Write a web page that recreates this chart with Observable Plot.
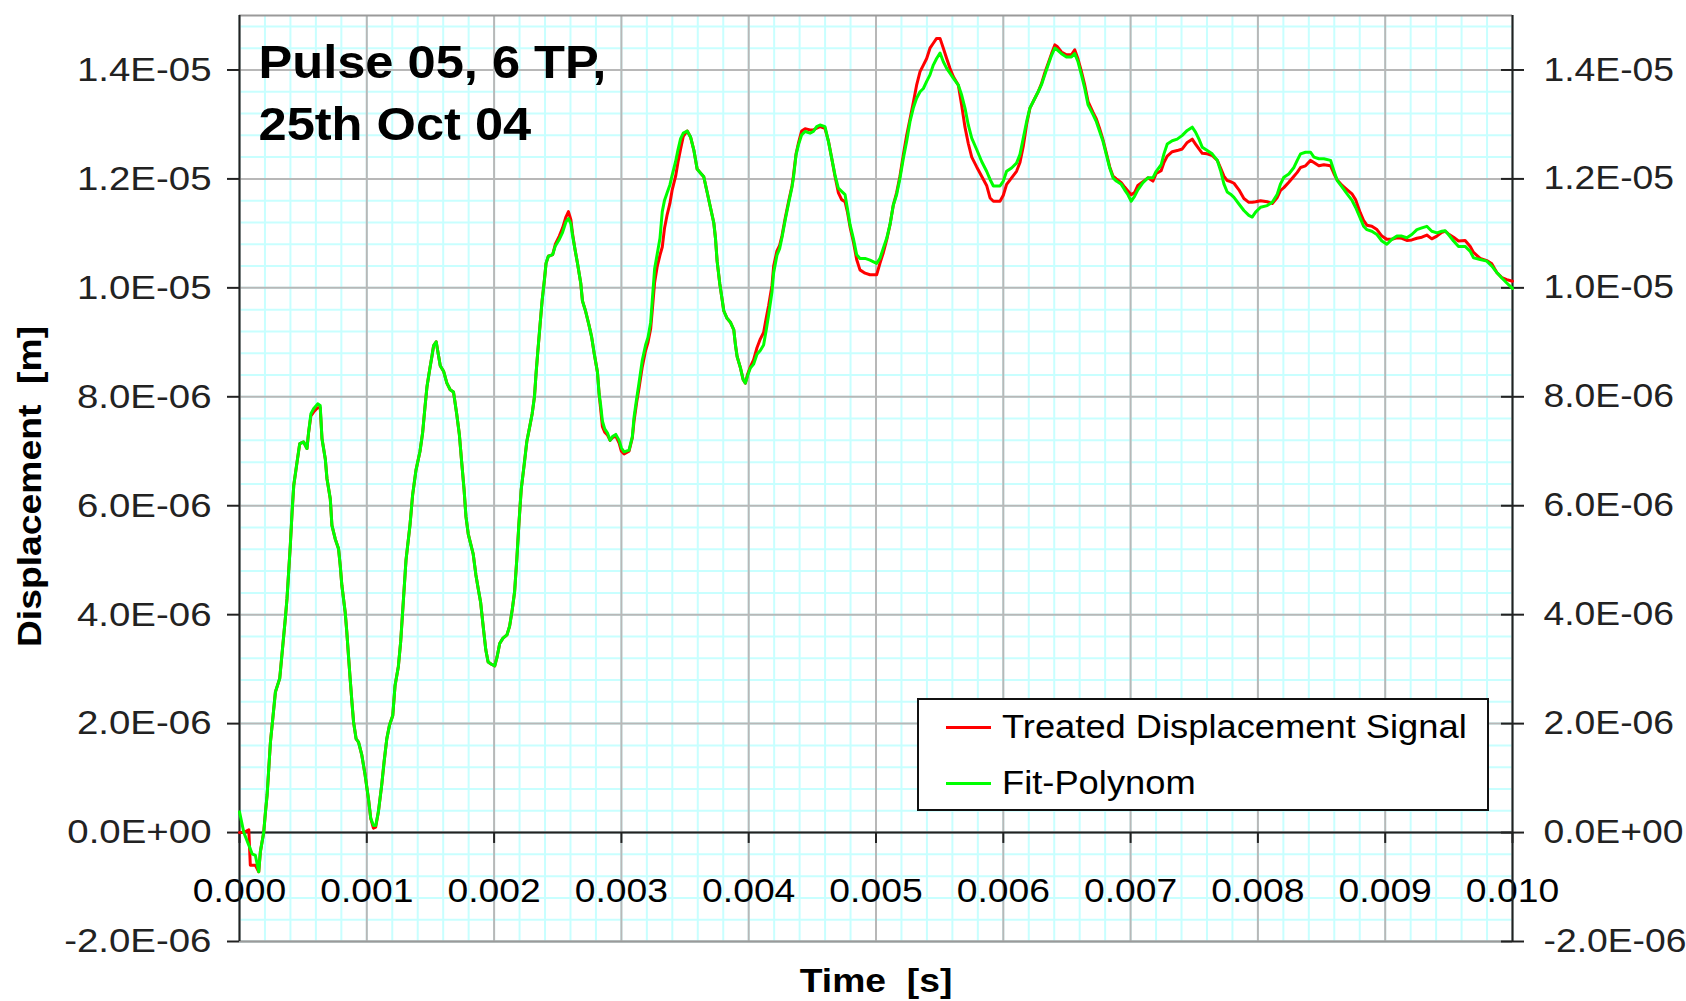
<!DOCTYPE html>
<html>
<head>
<meta charset="utf-8">
<script src="https://cdn.jsdelivr.net/npm/d3@7"></script>
<script src="https://cdn.jsdelivr.net/npm/@observablehq/plot@0.6"></script>
<style>
  html, body { margin: 0; padding: 0; background: #fff; }
  #chart { position: relative; width: 1686px; height: 1001px; overflow: hidden; }
  #chart svg text { white-space: pre; }
  #legend { position: absolute; box-sizing: border-box; border: 2px solid #111; background: #fff;
            font-family: "Liberation Sans", Arial, sans-serif; color: #000; }
  .lg-item { position: absolute; left: 0; height: 40px; width: 100%; }
  .lg-swatch { position: absolute; left: 27px; width: 45px; height: 3px; }
  .lg-text { position: absolute; left: 83px; top: 0; line-height: 40px; font-size: 33px;
             white-space: pre; transform: scaleX(1.10); transform-origin: left center; }
</style>
</head>
<body>
<div id="chart"></div>
<script>
// ---------------- data ----------------
// time in milliseconds
const timeMs = [
0.000,0.034,0.073,0.085,0.099,0.125,0.151,0.164,0.190,0.204,
0.217,0.243,0.264,0.282,0.316,0.334,0.360,0.373,0.399,0.413,
0.426,0.452,0.473,0.504,0.530,0.543,0.561,0.582,0.614,0.634,
0.648,0.674,0.687,0.713,0.726,0.752,0.778,0.791,0.804,0.830,
0.843,0.856,0.869,0.883,0.896,0.916,0.935,0.961,0.987,1.013,
1.031,1.052,1.070,1.091,1.117,1.136,1.157,1.178,1.204,1.222,
1.248,1.266,1.287,1.308,1.339,1.360,1.386,1.418,1.439,1.457,
1.473,1.494,1.512,1.525,1.545,1.564,1.577,1.603,1.629,1.655,
1.681,1.706,1.727,1.745,1.764,1.779,1.797,1.816,1.836,1.857,
1.875,1.894,1.914,1.935,1.953,1.979,2.005,2.023,2.044,2.070,
2.101,2.122,2.143,2.161,2.179,2.195,2.213,2.239,2.257,2.278,
2.299,2.317,2.330,2.343,2.361,2.377,2.395,2.408,2.426,2.460,
2.481,2.512,2.538,2.564,2.584,2.603,2.616,2.636,2.655,2.681,
2.694,2.719,2.745,2.766,2.786,2.812,2.825,2.838,2.851,2.869,
2.890,2.911,2.930,2.956,2.982,3.000,3.021,3.060,3.086,3.099,
3.120,3.138,3.164,3.190,3.209,3.230,3.243,3.261,3.282,3.303,
3.321,3.339,3.360,3.381,3.399,3.426,3.444,3.465,3.486,3.517,
3.543,3.569,3.595,3.621,3.647,3.674,3.700,3.726,3.739,3.752,
3.773,3.791,3.804,3.830,3.856,3.883,3.896,3.909,3.935,3.956,
3.974,3.992,4.013,4.039,4.065,4.091,4.117,4.138,4.157,4.183,
4.196,4.222,4.243,4.261,4.287,4.313,4.340,4.351,4.372,4.390,
4.416,4.443,4.482,4.508,4.534,4.560,4.599,4.626,4.652,4.678,
4.704,4.730,4.757,4.775,4.796,4.822,4.848,4.874,4.914,4.953,
5.005,5.031,5.058,5.084,5.110,5.136,5.162,5.188,5.215,5.241,
5.267,5.293,5.319,5.346,5.372,5.398,5.424,5.450,5.476,5.503,
5.529,5.555,5.581,5.607,5.647,5.673,5.699,5.725,5.752,5.791,
5.830,5.869,5.896,5.922,5.974,6.000,6.026,6.065,6.104,6.131,
6.157,6.183,6.209,6.248,6.274,6.300,6.326,6.352,6.379,6.405,
6.423,6.457,6.496,6.535,6.561,6.587,6.614,6.640,6.666,6.705,
6.731,6.757,6.783,6.809,6.836,6.862,6.888,6.927,6.953,6.979,
7.005,7.031,7.057,7.097,7.136,7.175,7.201,7.240,7.262,7.288,
7.327,7.366,7.406,7.445,7.484,7.510,7.537,7.563,7.602,7.641,
7.681,7.707,7.733,7.759,7.785,7.812,7.851,7.890,7.929,7.955,
7.982,8.021,8.073,8.113,8.152,8.178,8.204,8.243,8.283,8.309,
8.335,8.374,8.414,8.440,8.479,8.518,8.571,8.597,8.623,8.662,
8.702,8.741,8.767,8.804,8.830,8.856,8.895,8.935,8.974,9.013,
9.052,9.092,9.131,9.170,9.209,9.249,9.288,9.327,9.366,9.406,
9.445,9.471,9.497,9.537,9.576,9.628,9.668,9.694,9.746,9.798,
9.838,9.877,9.916,9.955,10.000
];

// Treated Displacement Signal (red), in 1E-06 m
const treatedSignal = [
0.00,0.00,0.05,-0.60,-0.60,-0.60,-0.72,-0.35,0.00,0.38,
0.69,1.66,2.15,2.58,2.83,3.28,3.93,4.29,5.27,5.88,
6.37,6.80,7.14,7.17,7.05,7.35,7.65,7.72,7.80,7.80,
7.23,6.86,6.50,6.13,5.64,5.39,5.21,4.91,4.54,4.05,
3.68,3.25,2.83,2.40,2.03,1.72,1.66,1.42,1.05,0.62,
0.26,0.08,0.10,0.38,0.87,1.30,1.72,1.97,2.15,2.70,
3.05,3.50,4.25,5.00,5.64,6.20,6.65,7.00,7.35,7.81,
8.19,8.50,8.75,8.94,9.01,8.75,8.57,8.47,8.25,8.13,
8.09,7.69,7.31,6.81,6.30,5.80,5.48,5.30,5.11,4.73,
4.48,4.23,3.79,3.35,3.13,3.09,3.06,3.22,3.47,3.57,
3.63,3.79,4.10,4.42,5.04,5.67,6.30,6.81,7.18,7.43,
7.69,8.00,8.44,8.82,9.32,9.76,10.14,10.45,10.58,10.61,
10.80,10.95,11.10,11.30,11.40,11.25,11.00,10.70,10.45,10.08,
9.76,9.57,9.32,9.10,8.80,8.45,8.05,7.75,7.45,7.35,
7.30,7.20,7.25,7.28,7.15,7.00,6.95,7.00,7.25,7.55,
7.90,8.15,8.55,8.85,9.00,9.25,9.60,10.10,10.40,10.60,
10.75,11.10,11.35,11.55,11.80,12.05,12.30,12.55,12.78,12.88,
12.77,12.53,12.18,12.11,12.04,11.75,11.47,11.19,10.91,10.49,
10.07,9.79,9.58,9.44,9.37,9.23,8.95,8.74,8.53,8.32,
8.25,8.42,8.55,8.68,8.90,9.06,9.18,9.45,9.68,10.05,
10.40,10.68,10.78,10.95,11.28,11.58,11.87,12.05,12.46,12.65,
12.88,12.92,12.90,12.90,12.93,12.96,12.93,12.70,12.38,12.05,
11.75,11.62,11.58,11.40,11.12,10.85,10.52,10.33,10.27,10.24,
10.24,10.45,10.65,10.88,11.16,11.52,11.75,12.05,12.45,12.80,
13.10,13.40,13.72,13.97,14.09,14.21,14.40,14.49,14.58,14.58,
14.40,14.21,14.03,13.88,13.72,13.35,12.95,12.65,12.40,12.22,
12.05,11.88,11.65,11.59,11.59,11.70,11.90,12.02,12.14,12.30,
12.60,13.00,13.30,13.48,13.60,13.75,13.95,14.12,14.30,14.46,
14.43,14.33,14.28,14.28,14.37,14.20,13.97,13.72,13.42,13.22,
13.10,12.92,12.72,12.48,12.22,12.05,12.00,11.93,11.85,11.78,
11.71,11.75,11.88,11.95,12.02,11.96,12.10,12.15,12.30,12.42,
12.50,12.52,12.55,12.67,12.73,12.64,12.55,12.47,12.46,12.43,
12.34,12.20,12.05,11.97,11.95,11.92,11.80,11.64,11.57,11.57,
11.58,11.60,11.58,11.55,11.66,11.79,11.84,11.94,12.05,12.12,
12.21,12.24,12.34,12.30,12.24,12.26,12.24,12.10,11.98,11.88,
11.80,11.72,11.62,11.38,11.24,11.15,11.13,11.07,10.95,10.89,
10.89,10.92,10.91,10.87,10.88,10.91,10.93,10.97,10.90,10.95,
11.02,11.04,10.99,10.93,10.86,10.87,10.76,10.65,10.54,10.50,
10.44,10.28,10.19,10.15,10.12
];

// Fit-Polynom (green), in 1E-06 m
const fitPolynom = [
0.38,0.00,-0.23,-0.30,-0.39,-0.42,-0.72,-0.35,0.00,0.38,
0.69,1.66,2.15,2.58,2.83,3.28,3.93,4.29,5.27,5.88,
6.37,6.80,7.14,7.17,7.05,7.35,7.69,7.78,7.87,7.84,
7.23,6.86,6.50,6.13,5.64,5.39,5.21,4.91,4.54,4.05,
3.68,3.25,2.83,2.40,2.03,1.72,1.66,1.42,1.05,0.62,
0.26,0.13,0.13,0.38,0.87,1.30,1.72,1.97,2.15,2.70,
3.05,3.50,4.25,5.00,5.64,6.20,6.65,7.00,7.35,7.81,
8.19,8.50,8.75,8.94,9.01,8.75,8.57,8.47,8.25,8.13,
8.09,7.69,7.31,6.81,6.30,5.80,5.48,5.30,5.11,4.73,
4.48,4.23,3.79,3.35,3.13,3.09,3.06,3.22,3.47,3.57,
3.63,3.79,4.10,4.42,5.04,5.67,6.30,6.81,7.18,7.43,
7.69,8.00,8.44,8.82,9.32,9.76,10.14,10.45,10.58,10.61,
10.77,10.89,11.02,11.21,11.27,11.18,10.96,10.70,10.45,10.08,
9.76,9.57,9.32,9.10,8.80,8.45,8.05,7.83,7.55,7.41,
7.34,7.20,7.27,7.31,7.20,7.06,6.99,7.02,7.27,7.62,
7.97,8.25,8.67,8.95,9.09,9.37,9.79,10.35,10.63,10.91,
11.40,11.61,11.75,11.89,12.07,12.32,12.53,12.74,12.84,12.88,
12.77,12.53,12.18,12.11,12.04,11.75,11.47,11.19,10.91,10.49,
10.07,9.79,9.58,9.44,9.37,9.23,8.95,8.74,8.53,8.32,
8.25,8.39,8.53,8.60,8.78,8.85,8.95,9.23,9.51,9.93,
10.28,10.60,10.72,10.92,11.25,11.55,11.85,12.01,12.44,12.62,
12.81,12.87,12.84,12.87,12.96,12.99,12.96,12.69,12.38,12.07,
11.83,11.77,11.71,11.46,11.16,10.91,10.61,10.54,10.54,10.51,
10.45,10.54,10.73,10.91,11.16,11.52,11.71,12.01,12.38,12.69,
13.05,13.30,13.48,13.60,13.66,13.79,13.91,14.09,14.21,14.31,
14.15,14.03,13.94,13.85,13.72,13.54,13.30,12.99,12.75,12.54,
12.32,12.14,11.99,11.87,11.87,11.96,12.14,12.20,12.29,12.45,
12.75,13.05,13.30,13.48,13.60,13.73,13.91,14.09,14.27,14.40,
14.37,14.30,14.24,14.24,14.30,14.15,13.91,13.66,13.36,13.18,
13.05,12.87,12.69,12.45,12.20,12.02,11.96,11.90,11.80,11.71,
11.59,11.68,11.80,11.93,12.02,12.02,12.14,12.26,12.46,12.64,
12.70,12.73,12.80,12.89,12.95,12.86,12.73,12.58,12.52,12.46,
12.34,12.15,11.91,11.76,11.72,11.66,11.54,11.42,11.33,11.30,
11.39,11.48,11.51,11.57,11.72,11.91,12.03,12.09,12.21,12.34,
12.46,12.49,12.49,12.40,12.37,12.37,12.34,12.15,11.97,11.85,
11.72,11.60,11.48,11.28,11.13,11.07,11.04,10.98,10.86,10.80,
10.89,10.95,10.95,10.92,10.98,11.07,11.10,11.13,11.04,11.01,
11.04,11.05,10.98,10.86,10.76,10.76,10.67,10.55,10.52,10.49,
10.40,10.28,10.18,10.09,9.99
];

const seriesNames = ["Treated Displacement Signal", "Fit-Polynom"];
const seriesColors = ["#ff0000", "#00ff00"];
const titleLines = ["Pulse 05, 6 TP,", "25th Oct 04"];
const yAxisTitle = "Displacement  [m]";
const xAxisTitle = "Time  [s]";
// tick values
const yTickValues = [-2e-6, 0, 2e-6, 4e-6, 6e-6, 8e-6, 1.0e-5, 1.2e-5, 1.4e-5];
const xTickValues = [0, 0.001, 0.002, 0.003, 0.004, 0.005, 0.006, 0.007, 0.008, 0.009, 0.010];
const xMinorStep = 0.0002;
const yMinorStep = 0.4e-6;

// ---------------- build ----------------
const rows = [];
seriesNames.forEach((name, k) => {
  const vals = k === 0 ? treatedSignal : fitPolynom;
  timeMs.forEach((t, i) => rows.push({series: name, t: t / 1000, v: vals[i] * 1e-6}));
});

const fmtY = d => {
  const [m, e] = d.toExponential(1).split("e");
  const sign = e[0] === "-" ? "-" : "+";
  return m + "E" + sign + String(Math.abs(+e)).padStart(2, "0");
};
const fmtX = d3.format(".3f");

const minorX = d3.range(0, 0.01 + 1e-9, xMinorStep);
const minorY = d3.range(-2e-6, 15e-6 + 1e-12, yMinorStep);

const FONT = "'Liberation Sans', Arial, Helvetica, sans-serif";

const svg = Plot.plot({
  width: 1686,
  height: 1001,
  marginLeft: 239,
  marginRight: 174,
  marginTop: 15,
  marginBottom: 60,
  style: {fontFamily: FONT, background: "#fff", color: "#000", overflow: "visible"},
  x: {domain: [0, 0.01], axis: null},
  y: {domain: [-2e-6, 15e-6]},
  marks: [
    Plot.gridX(minorX, {stroke: "#c8ffff", strokeOpacity: 1, strokeWidth: 2}),
    Plot.gridY(minorY, {stroke: "#c8ffff", strokeOpacity: 1, strokeWidth: 2}),
    Plot.gridX(xTickValues, {stroke: "#b8b8b8", strokeOpacity: 1, strokeWidth: 2}),
    Plot.gridY(yTickValues, {stroke: "#b8b8b8", strokeOpacity: 1, strokeWidth: 2}),
    // x tick labels sit below the zero line
    Plot.text(xTickValues, {x: d => d, y: 0, dy: 59, text: fmtX, fontSize: 33, fill: "#000"}),
    Plot.ruleY([0], {stroke: "#222", strokeWidth: 2}),
    Plot.ruleX(xTickValues, {x: d => d, y1: 0, y2: -0.2e-6, stroke: "#222", strokeWidth: 2}),
    Plot.ruleY([-2e-6, 15e-6], {stroke: "#9a9a9a", strokeWidth: 2}),
    Plot.ruleX([0, 0.01], {stroke: "#222", strokeWidth: 2}),
    Plot.axisY(yTickValues, {anchor: "left", tickSize: 12, tickPadding: 16, tickFormat: fmtY,
      fontSize: 34, label: null, color: "#222", strokeWidth: 2}),
    Plot.axisY(yTickValues, {anchor: "right", dx: -12, tickSize: 23, tickPadding: 20, tickFormat: fmtY,
      fontSize: 33, label: null, color: "#222", strokeWidth: 2}),
    Plot.line(rows, {x: "t", y: "v", z: "series",
      stroke: d => seriesColors[seriesNames.indexOf(d.series)], strokeWidth: 3}),
    Plot.text([titleLines.join("\n")], {frameAnchor: "top-left", dx: 19, dy: 18, lineAnchor: "top",
      textAnchor: "start", lineHeight: 1.36, fontSize: 46, fontWeight: "bold", fill: "#000",
      className: "charttitle"}),
    Plot.text([yAxisTitle], {frameAnchor: "left", dx: -209, dy: 8, rotate: -90, textAnchor: "middle",
      fontSize: 33, fontWeight: "bold", fill: "#000"}),
    Plot.text([xAxisTitle], {frameAnchor: "bottom", dy: 50, fontSize: 33, fontWeight: "bold", fill: "#000"})
  ]
});

// horizontal stretch of text along its baseline, as in the source image
svg.querySelectorAll("text").forEach(t => {
  const sx = t.closest(".charttitle") ? 1.10 : 1.13;
  let tr = t.getAttribute("transform");
  if (!tr) {
    const x = +(t.getAttribute("x") || 0), y = +(t.getAttribute("y") || 0);
    t.removeAttribute("x"); t.removeAttribute("y");
    tr = `translate(${x},${y})`;
  }
  t.setAttribute("transform", tr + ` scale(${sx},1)`);
});

const chart = document.getElementById("chart");
chart.appendChild(svg);

// legend
const legend = document.createElement("div");
legend.id = "legend";
Object.assign(legend.style, {left: "917px", top: "698px", width: "572px", height: "113px"});
seriesNames.forEach((name, i) => {
  const item = document.createElement("div");
  item.className = "lg-item";
  item.style.top = (7 + i * 56) + "px";
  const sw = document.createElement("div");
  sw.className = "lg-swatch";
  sw.style.background = seriesColors[i];
  sw.style.top = "19px";
  const tx = document.createElement("div");
  tx.className = "lg-text";
  tx.textContent = name;
  item.appendChild(sw); item.appendChild(tx);
  legend.appendChild(item);
});
chart.appendChild(legend);
</script>
</body>
</html>
